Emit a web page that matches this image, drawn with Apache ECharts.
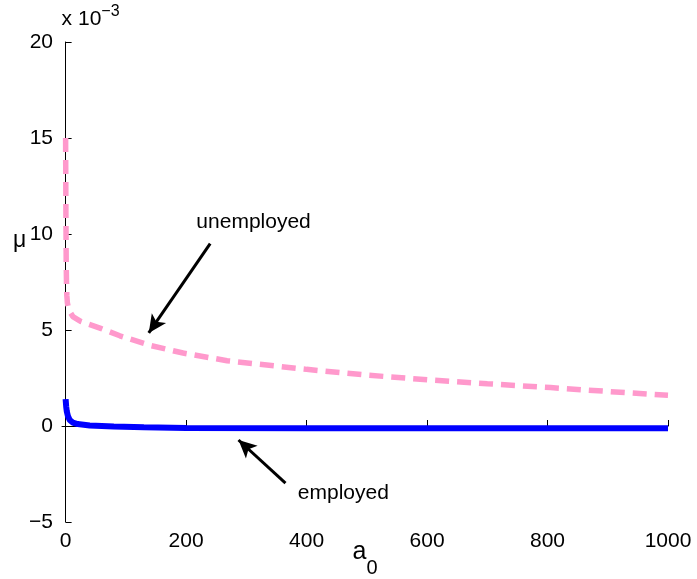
<!DOCTYPE html>
<html>
<head>
<meta charset="utf-8">
<script src="https://cdn.jsdelivr.net/npm/echarts@6/dist/echarts.min.js"></script>
<style>
  html, body { margin: 0; padding: 0; background: #fff; }
  #chart { width: 697px; height: 579px; }
</style>
</head>
<body>
<div id="chart"></div>
<script>
// values in units of 1e-3
const xTicks = [0, 200, 400, 600, 800, 1000];

const unemployedX = [0, 0.5, 1, 1.5, 2, 3, 5, 8, 12, 25, 57, 90, 140, 195, 268, 400, 500, 605, 700, 805, 900, 1000];
const unemployedY = [15, 11, 8.5, 7.4, 6.8, 6.4, 6.1, 5.9, 5.7, 5.45, 5.1, 4.7, 4.2, 3.8, 3.4, 2.95, 2.65, 2.4, 2.2, 2.0, 1.8, 1.6];

const employedX = [0, 1, 2, 4, 7, 12, 20, 40, 80, 130, 200, 400, 700, 1000];
const employedY = [1.4, 1.0, 0.75, 0.5, 0.3, 0.18, 0.1, 0.03, -0.03, -0.07, -0.1, -0.12, -0.12, -0.12];

// annotation anchors [x, y] in data space
const unemployedArrow = [[240, 9.5], [138, 4.85]];
const unemployedText = [312, 10.6];
const employedArrow = [[365, -2.97], [287, -0.73]];
const employedText = [461, -3.5];

const chart = echarts.init(document.getElementById('chart'));
const font = 'Liberation Sans, Arial, Helvetica, sans-serif';

function zip(xs, ys) {
    return xs.map((x, i) => [x, ys[i]]);
}

function arrow(pts) {
    return [
        {coord: pts[0], symbol: 'none'},
        {coord: pts[1], symbol: 'arrow'}
    ];
}

const option = {
    animation: false,
    textStyle: {fontFamily: font},
    grid: {left: 62, right: 29, top: 42, bottom: 57, containLabel: false, outerBoundsMode: 'none'},
    xAxis: {
        type: 'value',
        min: -6,
        max: 1000,
        name: '{a|a}{s|0}',
        nameLocation: 'middle',
        nameGap: 18,
        nameMoveOverlap: false,
        nameTextStyle: {
            rich: {
                a: {fontSize: 25, fontFamily: font, color: '#000', verticalAlign: 'top'},
                s: {fontSize: 20, fontFamily: font, color: '#000', padding: [18, 0, 0, 0], verticalAlign: 'top'}
            }
        },
        axisLine: {show: true, lineStyle: {color: '#000', width: 1}},
        axisTick: {show: true, inside: true, length: 6, customValues: xTicks, lineStyle: {color: '#000'}},
        axisLabel: {
            customValues: xTicks, color: '#000', fontSize: 21, margin: 9, fontFamily: font,
            formatter: v => String(v)
        },
        splitLine: {show: false}
    },
    yAxis: {
        type: 'value',
        min: -5,
        max: 20,
        interval: 5,
        name: '{b|x 10}{sup|\u22123}',
        nameLocation: 'end',
        nameGap: 8,
        nameTextStyle: {
            align: 'left',
            padding: [0, 0, 0, -4],
            rich: {
                b: {fontSize: 21, fontFamily: font, color: '#000'},
                sup: {fontSize: 16, fontFamily: font, color: '#000', padding: [0, 0, 14, 0]}
            }
        },
        axisLine: {show: true, lineStyle: {color: '#000', width: 1}},
        axisTick: {show: true, inside: true, length: 6, lineStyle: {color: '#000'}},
        axisLabel: {
            color: '#000', fontSize: 21, margin: 9, fontFamily: font,
            formatter: v => String(v).replace('-', '\u2212')
        },
        splitLine: {show: false}
    },
    graphic: [{
        type: 'text',
        left: 13,
        top: 229,
        style: {text: '\u03bc', fontSize: 23, fontFamily: font, fill: '#000'}
    }],
    series: [
        {
            name: 'unemployed',
            type: 'line',
            data: zip(unemployedX, unemployedY),
            showSymbol: false,
            symbol: 'none',
            lineStyle: {color: '#ff99cc', width: 5.5, type: [14, 8]},
            z: 3,
            markLine: {
                silent: true,
                symbolSize: [13, 18],
                lineStyle: {color: '#000', width: 3, type: 'solid'},
                label: {show: false},
                data: [arrow(unemployedArrow), arrow(employedArrow)]
            }
        },
        {
            name: 'employed',
            type: 'line',
            data: zip(employedX, employedY),
            showSymbol: false,
            symbol: 'none',
            lineStyle: {color: '#0000ff', width: 6},
            z: 4
        },
        {
            type: 'scatter',
            symbolSize: 0,
            silent: true,
            itemStyle: {opacity: 1},
            data: [
                {value: unemployedText, name: 'unemployed'},
                {value: employedText, name: 'employed'}
            ],
            label: {
                show: true,
                position: 'inside',
                formatter: p => p.name,
                color: '#000',
                opacity: 1,
                textBorderWidth: 0,
                fontSize: 21,
                fontFamily: font
            }
        }
    ]
};

chart.setOption(option);
</script>
</body>
</html>
